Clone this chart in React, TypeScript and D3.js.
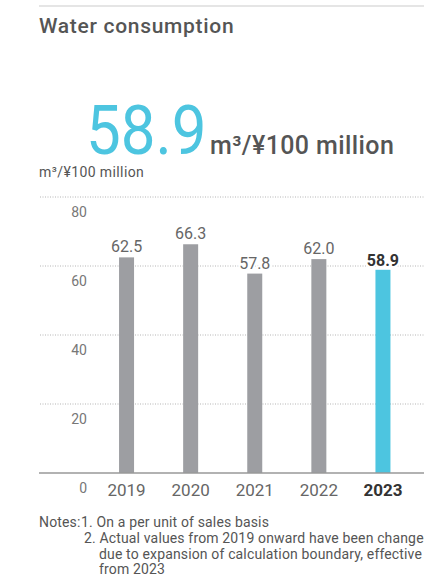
import React from "react";
import * as d3 from "d3";

const years = ["2019", "2020", "2021", "2022", "2023"];
const values = [62.5, 66.3, 57.8, 62.0, 58.9];
const yTicks = [0, 20, 40, 60, 80];
const title = "Water consumption";
const headline = "58.9";
const unit = "m³/¥100 million";
const notesLabel = "Notes:";
const notes = [
  "1. On a per unit of sales basis",
  "2. Actual values from 2019 onward have been changed",
  "due to expansion of calculation boundary, effective",
  "from 2023",
];

const FONT = "Roboto, 'Noto Sans', sans-serif";
const GRAY_BAR = "#9d9ea2";
const CYAN = "#4dc5e0";

export default function App() {
  const W = 424;
  const H = 583;
  const x = d3
    .scaleBand<string>()
    .domain(years)
    .range([94.5, 415])
    .paddingInner(0.766)
    .paddingOuter(0.383);
  const y = d3.scaleLinear().domain([0, 80]).range([473, 197]);
  const last = years.length - 1;

  return (
    <svg
      width={W}
      height={H}
      style={{ position: "absolute", left: 0, top: 0, background: "#fff" }}
      fontFamily={FONT}
    >
      <line x1={39} x2={W} y1={6} y2={6} stroke="#dcdcdc" strokeWidth={1.5} />
      <text x={39} y={33} fontSize={21} fontWeight={500} fill="#555" letterSpacing={0.7}>
        {title}
      </text>
      <text
        x={86}
        y={154}
        fontSize={68}
        fill={CYAN}
        transform="translate(86,154) scale(0.91,1) translate(-86,-154)"
      >
        {headline}
      </text>
      <text x={210} y={154} fontSize={25} fontWeight={500} fill="#555" letterSpacing={0.4}>
        {unit}
      </text>
      <text x={39} y={177} fontSize={14} fill="#555" letterSpacing={0.4}>
        {unit}
      </text>

      {yTicks
        .filter((t) => t > 0)
        .map((t) => (
          <line
            key={"g" + t}
            x1={40}
            x2={W}
            y1={y(t)}
            y2={y(t)}
            stroke="#b5b5b5"
            strokeWidth={1}
            strokeDasharray="1 1.5"
          />
        ))}
      {yTicks.map((t) => (
        <text
          key={"t" + t}
          x={87}
          y={y(t) + 19.5}
          textAnchor="end"
          fontSize={14}
          fill="#777"
        >
          {t}
        </text>
      ))}

      {years.map((yr, i) => (
        <rect
          key={"b" + yr}
          x={x(yr)}
          y={y(values[i])}
          width={x.bandwidth()}
          height={y(0) - y(values[i])}
          fill={i === last ? CYAN : GRAY_BAR}
        />
      ))}
      <line x1={39} x2={W} y1={y(0)} y2={y(0)} stroke="#999" strokeWidth={1.5} />

      {years.map((yr, i) => (
        <text
          key={"v" + yr}
          x={(x(yr) as number) + x.bandwidth() / 2}
          y={y(values[i]) - (i === last ? 4 : 5)}
          textAnchor="middle"
          fontSize={16}
          fontWeight={i === last ? 700 : 400}
          fill={i === last ? "#333" : "#666"}
          stroke="#fff"
          strokeWidth={4}
          paintOrder="stroke"
        >
          {values[i].toFixed(1)}
        </text>
      ))}
      {years.map((yr, i) => (
        <text
          key={"x" + yr}
          x={(x(yr) as number) + x.bandwidth() / 2}
          y={495.5}
          textAnchor="middle"
          fontSize={17}
          fontWeight={i === last ? 700 : 400}
          fill={i === last ? "#333" : "#666"}
        >
          {yr}
        </text>
      ))}

      <text fontSize={14} fill="#555" letterSpacing={0.15}>
        <tspan x={39} y={527}>{notesLabel}</tspan>
        <tspan x={81} y={527}>{notes[0]}</tspan>
        <tspan x={84} y={543}>{notes[1]}</tspan>
        <tspan x={99} y={559}>{notes[2]}</tspan>
        <tspan x={99} y={574}>{notes[3]}</tspan>
      </text>
    </svg>
  );
}
